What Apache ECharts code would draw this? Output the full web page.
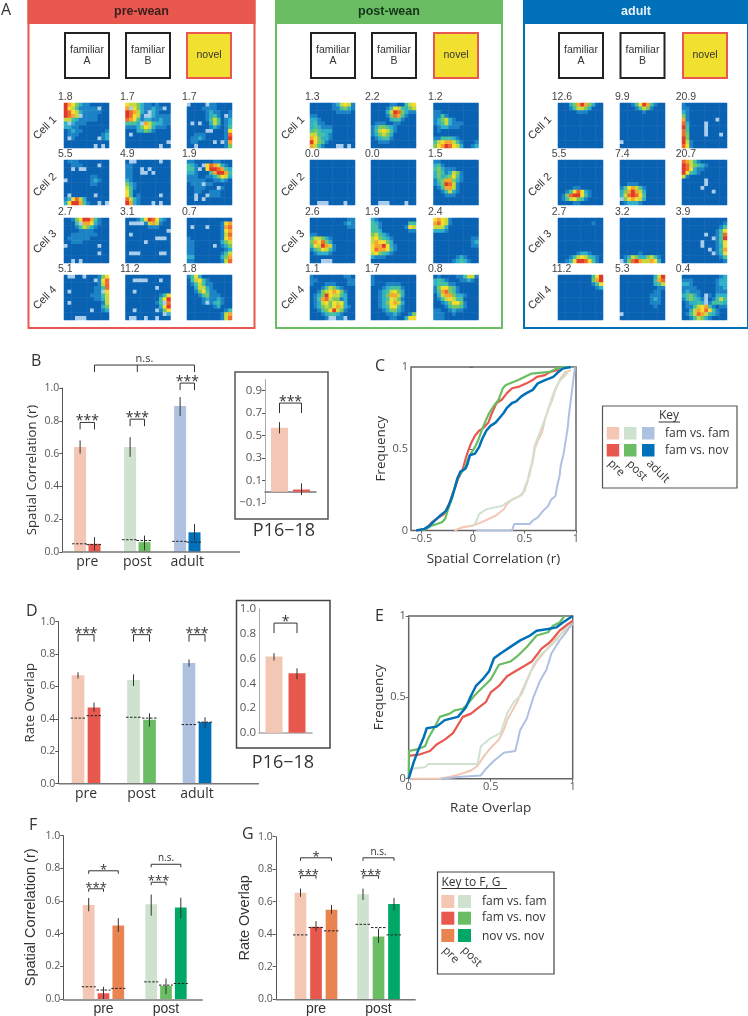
<!DOCTYPE html>
<html>
<head>
<meta charset="utf-8">
<style>
html, body { margin: 0; padding: 0; background: #fff; }
#chart { width: 748px; height: 1016px; }
</style>
<script src="https://cdn.jsdelivr.net/npm/echarts@6/dist/echarts.min.js"></script>
</head>
<body>
<div id="chart"></div>
<script>
// panel A: rate maps, one string per row, 0-9 = firing rate bin, . = unvisited
const blank = '000000000000';
const preWeanMaps = [
    ['976421100000','965311111.00','986521111100','9875.1111000','553211111000','2.2111000000','221100000000','012110000001','011100000012','0.1000000.12',blank,'00000000.0.0'],
    ['655421101000','7.64211211.0','987521.21000','98651..21111','876312211211','3332.7532211','111246521110','000224310000','0.0000000000',blank,'00000000000.','000000000.00'],
    ['.0000.110000','000011110000','000001211001','0000012310.1','000001353012','0.0.00253012','000000121013','00000..00016','001110000018','011210000019','0110000.0.17','00.000000014'],
    ['011100000000','001110000.00','00.0..000000',blank,'000000011000','.00000012100','000000011000',blank,blank,'0.000000.000','126852000000','269973100.0.'],
    ['0..000000.00','110000000000','1100.0.00000','1100..0.0000','110000000000','210000000000','421000000000','531000000000','630000000000','630100000.00','852100000000','9721000.0.00'],
    ['110000011000','3210.6875210','331.06998732','221000379973','111001124652','111110011210','0111.1100000','00111000.100','001100111000','00.00.111000','00.0.0000000',blank],
    ['001469973100','0003.7762100','000135421000','000011110000','001111111000','011111100000','001110000000','.00000000.00',blank,'000000000.00',blank,'00.0.0000000'],
    ['000136986210','0....1575100','000000111000','00000000000.','0.0000000000','00000000...0','00000.000000',blank,blank,'0...00000..0',blank,blank],
    [blank,'000000000167','0.000.000178','000000000167','000000000158','100000000167','110000000245','1100000.0124','110000000012','110000000135','220000000247','110000000158'],
    ['0..00.000146','00000000.168','000000000158','000000001138','0.00000011.6','000000011135','000000001125','0.0000000015','000000000024','0000000.0012',blank,'000...000000'],
    [blank,'00....000.00',blank,'00000000.000','00.000000000','000000000136','000000000369','0000000013.8','000000000269','00.00000.146','0000000000.2','0..00.00.000'],
    ['136200000000','035631000000','013531100000','002552100000','001463110000','000134111000','000012112100','00001.123100','000000012000','000000000013','000000000157','000000000158']
];
const postWeanMaps = [
    ['000000125651','000000113421','000000011110','110000000000','221000000000','231100000000','232111000000','343222000000','553321000000','764221000000','964310000000','7531000..0.0'],
    ['000001100356','000013653245','000025984211','000014873100','000002331000','011100110000','124432100000','135653100000','124542000000','012331000000','001110000000',blank],
    [blank,blank,'110000000000','113100000000','124521000000','123521110000','012211100000','010000000000',blank,'113332100000','356775310001','467986520012'],
    [blank,blank,blank,blank,blank,blank,blank,blank,blank,blank,blank,'00...0000.00'],
    [blank,blank,blank,blank,blank,blank,blank,blank,blank,blank,blank,'00...0000.00'],
    ['110000000000','231000000000','342111000000','243125410000','242346310000','134774210000','124985100000','013775100000','001352100000','000111000000',blank,blank],
    ['000000000011','000000000121','000000000011',blank,'110000000000','355421000000','476842000000','365975100000','134653100000','012221000000',blank,'000...000000'],
    ['210000000000','321000000033','331000000165','332000000011','453210000000','564321000000','576642000000','677962100000','687763100000','564321000000','211100000000',blank],
    ['676510000000','786510000000','555200000000','222100000000',blank,'000000000011','000000000012','000000000011',blank,blank,'000000121000','000001232100'],
    ['100000000110','110000000011','100011100011','000135421000','001456764100','012496553200','013785441200','012564656200','012454675210','001346954100','000123321000','00001..11.00'],
    ['100000000000','100000000000','100011110000','000123331000','001235642000','001247752000','001236541000','001246752000','001236631000','000124421000','000011210014','000001100266'],
    ['010000113551','232100011210','233311000000','146643100000','137843100000','025774221000','013565330000','001246641000','000134431000','110012110000','111001000000','111000000000']
];
const adultMaps = [
    ['000247974200','000135542000','000001110000',blank,blank,blank,blank,blank,blank,blank,blank,blank],
    ['000136973100','000013541000','000000100000',blank,blank,blank,blank,blank,blank,blank,'.00000000000',blank],
    ['100000000000','110000000000','210000000000','410000000000','710000000.00','820000.00000','930000.00000','830000.00000','840000.000.0','940000000000','951000000000','861000000000'],
    [blank,blank,blank,blank,blank,blank,blank,'000011000000','001368621000','014899631000','013564310000','000011000000'],
    [blank,blank,blank,blank,blank,blank,'001110000000','136753100000','247975200000','258986300000','.46765200000','012221000000'],
    ['875310000000','985432100000','986211000000','963210000000','510000000000','000000.00000','000000.00000','00000.000000','00000000.000',blank,blank,blank],
    [blank,'000000000100',blank,blank,blank,blank,blank,blank,blank,'000001221000','000135653210','001269986310'],
    [blank,blank,blank,blank,blank,blank,blank,blank,blank,'000001000000','012542245310','.14897557620'],
    [blank,'000000000001','000000000013','000000000136','000000.00138','00000000.139','00000.000136','00000.000126','0000000.0137','00000000.126','000000000013','000000000001'],
    ['000000000369','000000000479','000000000136','000000000012',blank,blank,blank,blank,blank,blank,blank,blank],
    ['000000000259','000000000378','000000000235','000000000011','000000000110','000000001110','000000001210','000000001110','000000000100',blank,'.00000000000',blank],
    ['000000000012','111000000122','221000000122','111100000112','121110000111','234210.10222','134321.01353','012232.13332','011356731011','002576863100','013587532100','001354210000']
];
const preWeanPeaks = ['1.8','1.7','1.7','5.5','4.9','1.9','2.7','3.1','0.7','5.1','11.2','1.8'];
const postWeanPeaks = ['1.3','2.2','1.2','0.0','0.0','1.5','2.6','1.9','2.4','1.1','1.7','0.8'];
const adultPeaks = ['12.6','9.9','20.9','5.5','7.4','20.7','2.7','3.2','3.9','11.2','5.3','0.4'];
const cellNames = ['Cell 1', 'Cell 2', 'Cell 3', 'Cell 4'];

// panel B
const groupsAll = ['pre', 'post', 'adult'];
const groupsPrePost = ['pre', 'post'];
const bFamFam = [0.64, 0.64, 0.89];
const bFamFamLow = [0.60, 0.58, 0.83];
const bFamFamHigh = [0.68, 0.70, 0.945];
const bFamFamChance = [0.05, 0.075, 0.065];
const bFamNov = [0.05, 0.06, 0.12];
const bFamNovLow = [0.01, 0.01, 0.07];
const bFamNovHigh = [0.09, 0.10, 0.17];
const bFamNovChance = [0.045, 0.07, 0.06];
// inset P16-18
const bInsetFamFam = [0.57];
const bInsetFamFamLow = [0.52];
const bInsetFamFamHigh = [0.62];
const bInsetFamNov = [0.02];
const bInsetFamNovLow = [-0.03];
const bInsetFamNovHigh = [0.075];

// panel C, cumulative curves as [r, frequency]
const cFamFamPre = [[-0.18,0],[-0.1,0.02],[0,0.03],[0.08,0.05],[0.15,0.07],[0.22,0.09],[0.3,0.13],[0.33,0.16],[0.38,0.19],[0.45,0.21],[0.5,0.24],[0.53,0.3],[0.55,0.36],[0.58,0.42],[0.6,0.5],[0.63,0.55],[0.67,0.6],[0.7,0.68],[0.73,0.74],[0.77,0.8],[0.8,0.86],[0.85,0.93],[0.9,0.97],[0.95,0.98]];
const cFamFamPost = [[0,0.03],[0.03,0.05],[0.06,0.1],[0.13,0.13],[0.2,0.14],[0.28,0.15],[0.35,0.18],[0.42,0.2],[0.48,0.22],[0.5,0.26],[0.55,0.34],[0.58,0.44],[0.6,0.52],[0.65,0.6],[0.68,0.65],[0.72,0.72],[0.76,0.8],[0.8,0.87],[0.85,0.92],[0.9,0.95],[0.93,0.98]];
const cFamFamAdult = [[0.03,0],[0.38,0],[0.4,0.04],[0.55,0.04],[0.58,0.06],[0.63,0.08],[0.68,0.12],[0.73,0.15],[0.76,0.19],[0.8,0.21],[0.82,0.28],[0.84,0.33],[0.85,0.39],[0.88,0.47],[0.9,0.55],[0.92,0.63],[0.93,0.7],[0.95,0.8],[0.97,0.9],[0.99,1]];
const cFamNovPre = [[-0.55,0],[-0.45,0.01],[-0.4,0.05],[-0.33,0.08],[-0.28,0.1],[-0.23,0.16],[-0.2,0.22],[-0.17,0.27],[-0.14,0.32],[-0.1,0.37],[-0.07,0.44],[-0.05,0.48],[-0.02,0.53],[0.02,0.58],[0.06,0.61],[0.1,0.625],[0.15,0.66],[0.18,0.71],[0.2,0.74],[0.23,0.78],[0.28,0.8],[0.33,0.84],[0.38,0.87],[0.45,0.88],[0.52,0.9],[0.58,0.92],[0.62,0.94],[0.7,0.95],[0.75,0.97],[0.82,0.98],[0.85,1],[0.96,1]];
const cFamNovPost = [[-0.5,0],[-0.45,0.01],[-0.4,0.03],[-0.35,0.04],[-0.3,0.05],[-0.27,0.07],[-0.24,0.13],[-0.2,0.2],[-0.17,0.28],[-0.14,0.33],[-0.08,0.38],[-0.05,0.43],[-0.02,0.47],[0.02,0.51],[0.05,0.55],[0.09,0.62],[0.13,0.68],[0.16,0.72],[0.2,0.76],[0.25,0.8],[0.29,0.87],[0.32,0.89],[0.44,0.92],[0.57,0.96],[0.74,0.97],[0.81,0.99],[0.87,1],[0.96,1]];
const cFamNovAdult = [[-0.55,0],[-0.47,0.01],[-0.42,0.03],[-0.37,0.06],[-0.32,0.09],[-0.26,0.12],[-0.23,0.16],[-0.2,0.21],[-0.17,0.27],[-0.15,0.32],[-0.12,0.36],[-0.07,0.38],[-0.05,0.41],[-0.03,0.46],[0.02,0.47],[0.06,0.51],[0.09,0.56],[0.13,0.61],[0.17,0.64],[0.22,0.66],[0.26,0.69],[0.3,0.72],[0.33,0.75],[0.38,0.78],[0.42,0.79],[0.47,0.82],[0.52,0.84],[0.58,0.86],[0.63,0.9],[0.7,0.92],[0.78,0.94],[0.83,0.97],[0.87,0.99],[0.95,1]];

// panel D
const dFamFam = [0.67, 0.64, 0.745];
const dFamFamLow = [0.65, 0.603, 0.722];
const dFamFamHigh = [0.687, 0.675, 0.767];
const dFamFamChance = [0.405, 0.41, 0.365];
const dFamNov = [0.47, 0.395, 0.38];
const dFamNovLow = [0.444, 0.352, 0.346];
const dFamNovHigh = [0.50, 0.434, 0.41];
const dFamNovChance = [0.42, 0.405, 0.38];
const dInsetFamFam = [0.615];
const dInsetFamFamLow = [0.584];
const dInsetFamFamHigh = [0.643];
const dInsetFamNov = [0.48];
const dInsetFamNovLow = [0.432];
const dInsetFamNovHigh = [0.52];

// panel E
const eFamFamPre = [[0,0],[0.18,0],[0.25,0.01],[0.32,0.03],[0.38,0.05],[0.42,0.08],[0.46,0.14],[0.5,0.19],[0.55,0.24],[0.58,0.3],[0.6,0.36],[0.66,0.47],[0.7,0.56],[0.74,0.65],[0.78,0.72],[0.82,0.77],[0.87,0.83],[0.92,0.88],[1,0.95]];
const eFamFamPost = [[0,0.06],[0.1,0.07],[0.12,0.09],[0.42,0.09],[0.44,0.2],[0.5,0.25],[0.56,0.28],[0.6,0.4],[0.64,0.47],[0.69,0.52],[0.73,0.62],[0.76,0.7],[0.8,0.76],[0.85,0.8],[0.9,0.85],[0.95,0.92],[1,0.97]];
const eFamFamAdult = [[0.2,0],[0.3,0.01],[0.44,0.02],[0.47,0.06],[0.52,0.11],[0.58,0.16],[0.65,0.17],[0.68,0.3],[0.72,0.37],[0.76,0.5],[0.8,0.6],[0.84,0.67],[0.87,0.77],[0.92,0.85],[0.96,0.9],[1,0.96]];
const eFamNovPre = [[0,0.14],[0.07,0.15],[0.13,0.17],[0.17,0.21],[0.22,0.24],[0.27,0.28],[0.3,0.33],[0.33,0.38],[0.38,0.4],[0.43,0.44],[0.47,0.47],[0.5,0.53],[0.55,0.57],[0.6,0.63],[0.65,0.66],[0.7,0.69],[0.75,0.72],[0.78,0.76],[0.81,0.8],[0.85,0.83],[0.88,0.86],[0.92,0.91],[0.97,0.95],[1,0.97]];
const eFamNovPost = [[0,0],[0.002,0.17],[0.05,0.18],[0.1,0.2],[0.12,0.25],[0.16,0.32],[0.19,0.38],[0.25,0.4],[0.28,0.42],[0.33,0.43],[0.36,0.46],[0.4,0.51],[0.45,0.56],[0.5,0.61],[0.55,0.7],[0.62,0.72],[0.67,0.76],[0.72,0.81],[0.78,0.88],[0.85,0.9],[0.88,0.94],[0.92,0.96],[0.95,1]];
const eFamNovAdult = [[0,0],[0.03,0.1],[0.06,0.18],[0.09,0.25],[0.11,0.31],[0.17,0.32],[0.22,0.36],[0.3,0.38],[0.35,0.44],[0.38,0.51],[0.41,0.57],[0.45,0.61],[0.49,0.66],[0.52,0.74],[0.56,0.77],[0.62,0.81],[0.68,0.85],[0.74,0.88],[0.78,0.91],[0.85,0.92],[0.9,0.93],[0.94,0.96],[1,1]];

// panel F
const fFamFam = [0.575, 0.58];
const fFamFamLow = [0.537, 0.51];
const fFamFamHigh = [0.619, 0.64];
const fFamFamChance = [0.075, 0.105];
const fFamNov = [0.035, 0.08];
const fFamNovLow = [0.0, 0.03];
const fFamNovHigh = [0.075, 0.125];
const fFamNovChance = [0.055, 0.085];
const fNovNov = [0.45, 0.56];
const fNovNovLow = [0.41, 0.495];
const fNovNovHigh = [0.495, 0.62];
const fNovNovChance = [0.065, 0.095];

// panel G
const gFamFam = [0.655, 0.645];
const gFamFamLow = [0.63, 0.61];
const gFamFamHigh = [0.68, 0.68];
const gFamFamChance = [0.395, 0.46];
const gFamNov = [0.445, 0.385];
const gFamNovLow = [0.417, 0.345];
const gFamNovHigh = [0.48, 0.434];
const gFamNovChance = [0.44, 0.44];
const gNovNov = [0.55, 0.585];
const gNovNovLow = [0.525, 0.545];
const gNovNovHigh = [0.58, 0.623];
const gNovNovChance = [0.42, 0.395];

const pale = { pre: '#F4C6B4', post: '#CFE2CF', adult: '#AFC1E1' };
const strong = { pre: '#E9584F', post: '#6ABD62', adult: '#0070B8' };
const novNov = { pre: '#E98350', post: '#00A868' };
// last colour is for unvisited spots, softened because they are smaller than a cell
const rateColors = ['#0A62B2', '#1C84C6', '#30AFC8', '#45C0A0', '#7CC860', '#C6D83C', '#F4DC30', '#F5A530', '#EE6A30', '#DE3A2A', '#A9CDEB'];
const mapFont = '"Liberation Sans", Arial, sans-serif';
const plotFont = '"Open Sans", sans-serif';

let grids = [], xAxes = [], yAxes = [], series = [], graphics = [], heatIndices = [];

function addText(text, x, y, size, opts) {
    opts = opts || {};
    graphics.push({
        type: 'text', x: x, y: y, rotation: opts.rotation || 0, z: 20,
        style: {
            text: text, fontSize: size, fontFamily: opts.font || plotFont,
            fontWeight: opts.weight || 'normal', fill: opts.color || '#333',
            textAlign: opts.align || 'center', textVerticalAlign: 'middle'
        }
    });
}

function addRect(x, y, w, h, fill, stroke, lineWidth) {
    graphics.push({
        type: 'rect', z: 10, shape: { x: x, y: y, width: w, height: h },
        style: { fill: fill, stroke: stroke || null, lineWidth: lineWidth || 0 }
    });
}

function addLine(x1, y1, x2, y2, color, width) {
    graphics.push({
        type: 'line', z: 15, shape: { x1: x1, y1: y1, x2: x2, y2: y2 },
        style: { stroke: color, lineWidth: width }
    });
}

function addGrid(left, top, width, height, extra) {
    grids.push(Object.assign({ left: left, top: top, width: width, height: height, containLabel: false }, extra || {}));
    return grids.length - 1;
}

function parseMap(rows) {
    let cells = [];
    rows.forEach(function(row, r) {
        row.split('').forEach(function(ch, c) {
            cells.push([c, r, ch === '.' ? 10 : Number(ch)]);
        });
    });
    return cells;
}

function addRateMap(rows, left, top, size) {
    let idx = addGrid(left, top, size, size);
    let ticks = [];
    for (let i = 0; i < 12; i++) ticks.push(String(i));
    xAxes.push({ type: 'category', gridIndex: idx, data: ticks, show: false });
    yAxes.push({ type: 'category', gridIndex: idx, data: ticks, show: false, inverse: true });
    heatIndices.push(series.length);
    series.push({ type: 'heatmap', xAxisIndex: idx, yAxisIndex: idx, data: parseMap(rows), silent: true, progressive: 0, animation: false });
}

function addCondition(title, color, titleColor, frameX, frameW, iconX, mapX, labelX, cellX, maps, peaks) {
    addRect(frameX + 1, 1, frameW - 2, 327, 'none', color, 2);
    addRect(frameX, 0, frameW, 24, color);
    addText(title, frameX + frameW / 2, 11.5, 12.5, { font: mapFont, weight: 'bold', color: titleColor });

    ['familiar\nA', 'familiar\nB'].forEach(function(name, i) {
        addRect(iconX[i] + 1, 33, 44, 45, '#fff', '#222', 2);
        addText(name, iconX[i] + 23, 55.5, 10.5, { font: mapFont });
    });
    addRect(iconX[2] + 1, 33, 44, 45, '#F2E030', '#E9584F', 2);
    addText('novel', iconX[2] + 23, 55.5, 10.5, { font: mapFont });

    let rowTops = [103, 160, 218, 275];
    let rowLabels = [97, 154.5, 212, 269.5];
    let cellLabels = [128, 185, 242, 298];
    rowTops.forEach(function(top, r) {
        addText(cellNames[r], cellX, cellLabels[r], 11, { font: mapFont, rotation: Math.PI / 4 });
        for (let c = 0; c < 3; c++) {
            addRateMap(maps[r * 3 + c], mapX[c], top, 45);
            addText(peaks[r * 3 + c], labelX[c], rowLabels[r], 10.5, { font: mapFont, align: 'left', color: '#444' });
        }
    });
}

// bar panel: bars through the axes, error bars and chance dashes on the same scales
function addBarPanel(p) {
    let idx = addGrid(p.left, p.top, p.width, p.height);
    let labelMinus = function(v) { return String(v.toFixed(1)).replace('-', '\u2212'); };
    xAxes.push({
        type: 'category', gridIndex: idx, data: p.categories,
        axisLine: p.insetAxis ? { show: true, onZero: true, lineStyle: { color: p.insetAxis, width: 1.5 } } : { show: false },
        axisTick: { show: false },
        axisLabel: { show: !p.insetAxis, fontSize: 14, fontFamily: p.nameFont || plotFont, color: '#333', margin: 3 }
    });
    let yAxis = {
        type: 'value', gridIndex: idx, min: p.min === undefined ? 0 : p.min, max: p.max === undefined ? 1 : p.max,
        interval: p.customTicks ? undefined : 0.2, offset: p.offset || 0,
        splitLine: { show: false },
        axisLine: { show: true, onZero: false, lineStyle: { color: p.axisColor || '#555', width: 1 } },
        axisTick: { show: !p.insetAxis || !!p.customTicks, length: 3, lineStyle: { color: '#555' } },
        axisLabel: { fontSize: p.tickSize || 10.5, fontFamily: plotFont, color: '#555', margin: 3, formatter: labelMinus }
    };
    if (p.customTicks) {
        yAxis.axisLabel.customValues = p.customTicks;
        yAxis.axisTick.customValues = p.customTicks;
    }
    if (p.yName) {
        yAxis.name = p.yName;
        yAxis.nameLocation = 'middle';
        yAxis.nameGap = p.nameGap;
        yAxis.nameTextStyle = { fontSize: p.nameSize || 13.2, fontFamily: p.nameFont || plotFont, color: '#333' };
    }
    yAxes.push(yAxis);

    let n = p.bars.length;
    p.bars.forEach(function(bar, k) {
        series.push({
            type: 'bar', xAxisIndex: idx, yAxisIndex: idx, barWidth: p.barWidth,
            barGap: ((p.barStep - p.barWidth) / p.barWidth * 100) + '%',
            silent: true, animation: false,
            data: bar.values.map(function(v, i) { return { value: v, itemStyle: { color: bar.colors[i] } }; })
        });
    });
    p.bars.forEach(function(bar, k) {
        let shift = (k - (n - 1) / 2) * p.barStep;
        series.push({
            type: 'custom', xAxisIndex: idx, yAxisIndex: idx, silent: true, animation: false, z: 5,
            data: bar.values.map(function(v, i) { return [i, bar.low[i], bar.high[i], bar.chance ? bar.chance[i] : null]; }),
            encode: { x: 0, y: [1, 2, 3] },
            renderItem: function(params, api) {
                let lo = api.coord([api.value(0), api.value(1)]);
                let hi = api.coord([api.value(0), api.value(2)]);
                let x = lo[0] + shift;
                let children = [{
                    type: 'line', shape: { x1: x, y1: lo[1], x2: x, y2: hi[1] },
                    style: { stroke: '#333', lineWidth: 1 }
                }];
                if (bar.chance) {
                    let dash = api.coord([api.value(0), bar.chance[params.dataIndex]]);
                    children.push({
                        type: 'line', shape: { x1: x - p.dashLen / 2, y1: dash[1], x2: x + p.dashLen / 2, y2: dash[1] },
                        style: { stroke: '#222', lineWidth: 1, lineDash: [2.5, 1.5] }
                    });
                }
                return { type: 'group', children: children };
            }
        });
    });

    if (p.brackets) {
        series.push({
            type: 'custom', xAxisIndex: idx, yAxisIndex: idx, silent: true, animation: false, z: 6,
            data: p.brackets.map(function(b) { return [b.from[0], b.y]; }),
            encode: { x: 0, y: 1 },
            renderItem: function(params, api) {
                let b = p.brackets[params.dataIndex];
                let barX = function(pair) {
                    return api.coord([pair[0], 0])[0] + (pair[1] - (n - 1) / 2) * p.barStep;
                };
                let x1 = barX(b.from), x2 = barX(b.to);
                let top = api.coord([0, b.y])[1];
                let drop = b.drop || 7;
                let children = [{
                    type: 'polyline', shape: { points: [[x1, top + drop], [x1, top], [x2, top], [x2, top + drop]] },
                    style: { stroke: '#333', lineWidth: 1, fill: null }
                }];
                if (b.mid) {
                    let xm = barX(b.mid);
                    children.push({ type: 'line', shape: { x1: xm, y1: top, x2: xm, y2: top + drop }, style: { stroke: '#333', lineWidth: 1 } });
                }
                children.push({
                    type: 'text',
                    style: {
                        text: b.label, x: (x1 + x2) / 2 + (b.labelShift || 0),
                        y: top + (b.label === 'n.s.' ? -1 : 6),
                        fontSize: b.labelSize || (b.label === 'n.s.' ? 10 : (p.starSize || 14)), fontFamily: plotFont, fill: '#333',
                        textAlign: 'center', textVerticalAlign: 'bottom'
                    }
                });
                return { type: 'group', children: children };
            }
        });
    }
    return idx;
}

function addCurvePanel(p) {
    let idx = addGrid(p.left, p.top, p.width, p.height, { show: true, borderColor: '#666', borderWidth: 1.5, backgroundColor: '#fff' });
    let tickFmt = function(v) { return String(v).replace('-', '\u2212'); };
    xAxes.push({
        type: 'value', gridIndex: idx, min: p.min, max: 1, name: p.xName, nameLocation: 'middle', nameGap: 22,
        nameTextStyle: { fontSize: 13.5, fontFamily: plotFont, color: '#333' },
        splitLine: { show: false }, axisLine: { show: false },
        axisTick: { show: true, length: 3, lineStyle: { color: '#666' }, customValues: p.xTicks },
        axisLabel: { fontSize: 11, fontFamily: plotFont, color: '#555', margin: 3, customValues: p.xTicks, formatter: tickFmt, showMinLabel: true, showMaxLabel: true }
    });
    yAxes.push({
        type: 'value', gridIndex: idx, min: 0, max: 1, name: 'Frequency', nameLocation: 'middle', nameGap: 20,
        nameTextStyle: { fontSize: 13.5, fontFamily: plotFont, color: '#333' },
        splitLine: { show: false }, axisLine: { show: false },
        axisTick: { show: true, length: 3, lineStyle: { color: '#666' }, customValues: [0, 0.5, 1] },
        axisLabel: { fontSize: 11, fontFamily: plotFont, color: '#555', margin: 3, customValues: [0, 0.5, 1], formatter: tickFmt }
    });
    p.curves.forEach(function(c) {
        series.push({
            type: 'line', xAxisIndex: idx, yAxisIndex: idx, data: c.data, showSymbol: false,
            silent: true, animation: false, lineStyle: { color: c.color, width: c.width }
        });
    });
}

// panel A
addCondition('pre-wean', strong.pre, '#3a1f1f', 27.5, 228, [64, 125, 186], [64, 125.5, 187], [58, 120, 182], 45, preWeanMaps, preWeanPeaks);
addCondition('post-wean', strong.post, '#17351a', 275, 228, [310, 371, 433], [310, 371, 433.5], [305, 365, 428], 293, postWeanMaps, postWeanPeaks);
addCondition('adult', strong.adult, '#e8f2fa', 523, 226, [558, 619.5, 682], [558, 620, 682], [551.7, 615, 675.7], 540, adultMaps, adultPeaks);

// panel B
addBarPanel({
    left: 62.3, top: 388, width: 150, height: 164, categories: groupsAll,
    yName: 'Spatial Correlation (r)', nameGap: 24,
    barWidth: 12, barStep: 14.4, dashLen: 16,
    bars: [
        { values: bFamFam, low: bFamFamLow, high: bFamFamHigh, chance: bFamFamChance, colors: [pale.pre, pale.post, pale.adult] },
        { values: bFamNov, low: bFamNovLow, high: bFamNovHigh, chance: bFamNovChance, colors: [strong.pre, strong.post, strong.adult] }
    ],
    brackets: [
        { from: [0, 0], to: [0, 1], y: 0.79, label: '***' },
        { from: [1, 0], to: [1, 1], y: 0.81, label: '***' },
        { from: [2, 0], to: [2, 1], y: 1.03, label: '***' },
        { from: [0, 1], to: [2, 1], mid: [1, 0.5], y: 1.14, label: 'n.s.', labelSize: 11 }
    ]
});
addLine(62.3, 552, 240, 552, '#777', 1.5);
addRect(235, 372, 93, 147, 'none', '#555', 1.5);
addBarPanel({
    left: 265, top: 379.5, width: 51, height: 123.5, categories: ['P16-18'],
    min: -0.1, max: 1, customTicks: [-0.1, 0.1, 0.3, 0.5, 0.7, 0.9], insetAxis: '#777', axisColor: '#aaa', tickSize: 11.5,
    barWidth: 17, barStep: 22, dashLen: 0,
    bars: [
        { values: bInsetFamFam, low: bInsetFamFamLow, high: bInsetFamFamHigh, colors: [pale.pre] },
        { values: bInsetFamNov, low: bInsetFamNovLow, high: bInsetFamNovHigh, colors: [strong.pre] }
    ],
    brackets: [{ from: [0, 0], to: [0, 1], y: 0.79, drop: 10, label: '***' }]
});
addText('P16\u221218', 284, 531, 18);

// panel C
addCurvePanel({
    left: 411, top: 367, width: 165, height: 163.5, min: -0.6, xTicks: [-0.5, 0, 0.5, 1], xName: 'Spatial Correlation (r)',
    curves: [
        { data: cFamFamPre, color: pale.pre, width: 2 },
        { data: cFamFamPost, color: pale.post, width: 2 },
        { data: cFamFamAdult, color: pale.adult, width: 2 },
        { data: cFamNovPre, color: strong.pre, width: 2.2 },
        { data: cFamNovPost, color: strong.post, width: 2.2 },
        { data: cFamNovAdult, color: strong.adult, width: 2.5 }
    ]
});
addRect(602.5, 406, 134.5, 82, '#fff', '#555', 1.2);
addText('Key', 669, 415.5, 12);
addLine(658.7, 422, 680, 422, '#333', 1);
[606.7, 624, 642].forEach(function(x, i) {
    let key = ['pre', 'post', 'adult'][i];
    addRect(x, 427, 12.5, 12.5, pale[key]);
    addRect(x, 444, 12.5, 12.5, strong[key]);
    addText(key, x + [9.5, 13, 16][i], 468 + [0, 2.5, 3.5][i], 11.5, { rotation: -Math.PI / 4 });
});
addText('fam vs. fam', 665, 433.5, 12, { align: 'left' });
addText('fam vs. nov', 665, 450.5, 12, { align: 'left' });

// panel D
addBarPanel({
    left: 58.25, top: 621.7, width: 166.5, height: 162, categories: groupsAll,
    yName: 'Rate Overlap', nameGap: 21,
    barWidth: 12.7, barStep: 16, dashLen: 15,
    bars: [
        { values: dFamFam, low: dFamFamLow, high: dFamFamHigh, chance: dFamFamChance, colors: [pale.pre, pale.post, pale.adult] },
        { values: dFamNov, low: dFamNovLow, high: dFamNovHigh, chance: dFamNovChance, colors: [strong.pre, strong.post, strong.adult] }
    ],
    brackets: [
        { from: [0, 0], to: [0, 1], y: 0.92, label: '***' },
        { from: [1, 0], to: [1, 1], y: 0.92, label: '***' },
        { from: [2, 0], to: [2, 1], y: 0.92, label: '***' }
    ]
});
addLine(59, 783.7, 259, 783.7, '#777', 1.5);
addRect(236.5, 600.5, 93.5, 147.5, 'none', '#444', 1.5);
addBarPanel({
    left: 259, top: 609, width: 53, height: 123.7, categories: ['P16-18'],
    insetAxis: '#aaa', axisColor: '#aaa', tickSize: 11.5,
    barWidth: 17, barStep: 23, dashLen: 0,
    bars: [
        { values: dInsetFamFam, low: dInsetFamFamLow, high: dInsetFamFamHigh, colors: [pale.pre] },
        { values: dInsetFamNov, low: dInsetFamNovLow, high: dInsetFamNovHigh, colors: [strong.pre] }
    ],
    brackets: [{ from: [0, 0], to: [0, 1], y: 0.886, drop: 10, label: '*' }]
});
addText('P16\u221218', 283, 763, 18);

// panel E
addCurvePanel({
    left: 408.7, top: 616, width: 164, height: 162.7, min: 0, xTicks: [0, 0.5, 1], xName: 'Rate Overlap',
    curves: [
        { data: eFamFamPre, color: pale.pre, width: 2 },
        { data: eFamFamPost, color: pale.post, width: 2 },
        { data: eFamFamAdult, color: pale.adult, width: 2 },
        { data: eFamNovPre, color: strong.pre, width: 2.2 },
        { data: eFamNovPost, color: strong.post, width: 2.2 },
        { data: eFamNovAdult, color: strong.adult, width: 2.5 }
    ]
});

// panel F
addBarPanel({
    left: 72.25, top: 835.7, width: 125, height: 164.3, categories: groupsPrePost, offset: 9,
    yName: 'Spatial Correlation (r)', nameGap: 25, nameSize: 14.5, nameFont: mapFont, starSize: 13,
    barWidth: 11.7, barStep: 14.8, dashLen: 14,
    bars: [
        { values: fFamFam, low: fFamFamLow, high: fFamFamHigh, chance: fFamFamChance, colors: [pale.pre, pale.post] },
        { values: fFamNov, low: fFamNovLow, high: fFamNovHigh, chance: fFamNovChance, colors: [strong.pre, strong.post] },
        { values: fNovNov, low: fNovNovLow, high: fNovNovHigh, chance: fNovNovChance, colors: [novNov.pre, novNov.post] }
    ],
    brackets: [
        { from: [0, 0], to: [0, 1], y: 0.675, drop: 3, label: '***' },
        { from: [1, 0], to: [1, 1], y: 0.715, drop: 3, label: '***' },
        { from: [0, 0], to: [0, 2], y: 0.785, drop: 3, label: '*' },
        { from: [1, 0], to: [1, 2], y: 0.825, drop: 3, label: 'n.s.' }
    ]
});
addLine(63, 1000, 202.7, 1000, '#777', 1.5);

// panel G
addBarPanel({
    left: 284.75, top: 836.7, width: 125, height: 163, categories: groupsPrePost, offset: 9,
    yName: 'Rate Overlap', nameGap: 23, nameSize: 14.5, nameFont: mapFont, starSize: 13,
    barWidth: 11.7, barStep: 15.5, dashLen: 15,
    bars: [
        { values: gFamFam, low: gFamFamLow, high: gFamFamHigh, chance: gFamFamChance, colors: [pale.pre, pale.post] },
        { values: gFamNov, low: gFamNovLow, high: gFamNovHigh, chance: gFamNovChance, colors: [strong.pre, strong.post] },
        { values: gNovNov, low: gNovNovLow, high: gNovNovHigh, chance: gNovNovChance, colors: [novNov.pre, novNov.post] }
    ],
    brackets: [
        { from: [0, 0], to: [0, 1], y: 0.76, drop: 3, label: '***' },
        { from: [1, 0], to: [1, 1], y: 0.76, drop: 3, label: '***' },
        { from: [0, 0], to: [0, 2], y: 0.87, drop: 3, label: '*' },
        { from: [1, 0], to: [1, 2], y: 0.87, drop: 3, label: 'n.s.' }
    ]
});
addLine(275.7, 999.7, 415.7, 999.7, '#777', 1.5);

// key to F, G
addRect(437.5, 872, 116.5, 102, '#fff', '#444', 1.2);
addText('Key to F, G', 441.5, 882.5, 12, { align: 'left' });
addLine(441.5, 888.5, 507, 888.5, '#333', 1);
[441.3, 458].forEach(function(x, i) {
    let key = ['pre', 'post'][i];
    addRect(x, 895, 13, 13, pale[key]);
    addRect(x, 911.7, 13, 13, strong[key]);
    addRect(x, 929, 13, 13, novNov[key]);
    addText(key, x + [9.5, 13.7][i], 955 + i * 1.7, 11.5, { rotation: -Math.PI / 4 });
});
addText('fam vs. fam', 482, 901.5, 12, { align: 'left' });
addText('fam vs. nov', 482, 918, 12, { align: 'left' });
addText('nov vs. nov', 482, 936.5, 12, { align: 'left' });

// panel letters
addText('A', 1, 10, 16, { align: 'left' });
addText('B', 31, 361.5, 16, { align: 'left' });
addText('C', 375, 366, 16, { align: 'left' });
addText('D', 26, 611.5, 16, { align: 'left' });
addText('E', 375, 616, 16, { align: 'left' });
addText('F', 29, 825.5, 16, { align: 'left' });
addText('G', 242, 834, 16, { align: 'left' });

let chart = echarts.init(document.getElementById('chart'));
chart.setOption({
    animation: false,
    backgroundColor: '#fff',
    grid: grids,
    xAxis: xAxes,
    yAxis: yAxes,
    visualMap: {
        show: false, type: 'continuous', min: 0, max: 10, seriesIndex: heatIndices,
        inRange: { color: rateColors }
    },
    graphic: { elements: graphics },
    series: series
});
</script>
</body>
</html>
